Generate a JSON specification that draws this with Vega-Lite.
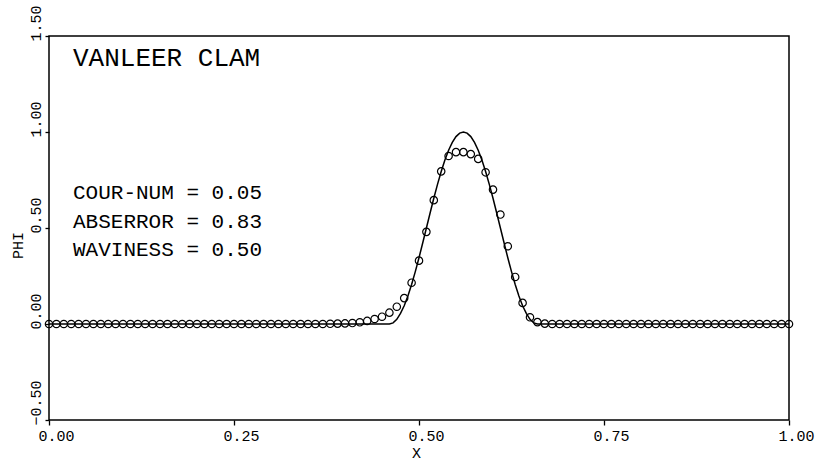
{
  "$schema": "https://vega.github.io/schema/vega-lite/v6.json",
  "width": 740,
  "height": 384,
  "autosize": "none",
  "padding": {"left": 49, "top": 36, "right": 35, "bottom": 44},
  "background": "white",
  "config": {
    "view": {"stroke": "black", "strokeWidth": 1.5},
    "font": "Liberation Mono",
    "axis": {
      "grid": false,
      "domain": false,
      "tickColor": "black",
      "tickWidth": 1.3,
      "labelColor": "black",
      "labelFont": "Liberation Mono",
      "labelFontSize": 15,
      "titleFont": "Liberation Mono",
      "titleFontSize": 15,
      "titleFontWeight": "normal",
      "titleColor": "black",
      "labelFlush": false,
      "labelOverlap": false
    }
  },
  "datasets": {
    "points": [
      {"x": 0.00, "phi": 0}, {"x": 0.01, "phi": 0}, {"x": 0.02, "phi": 0}, {"x": 0.03, "phi": 0}, {"x": 0.04, "phi": 0},
      {"x": 0.05, "phi": 0}, {"x": 0.06, "phi": 0}, {"x": 0.07, "phi": 0}, {"x": 0.08, "phi": 0}, {"x": 0.09, "phi": 0},
      {"x": 0.10, "phi": 0}, {"x": 0.11, "phi": 0}, {"x": 0.12, "phi": 0}, {"x": 0.13, "phi": 0}, {"x": 0.14, "phi": 0},
      {"x": 0.15, "phi": 0}, {"x": 0.16, "phi": 0}, {"x": 0.17, "phi": 0}, {"x": 0.18, "phi": 0}, {"x": 0.19, "phi": 0},
      {"x": 0.20, "phi": 0}, {"x": 0.21, "phi": 0}, {"x": 0.22, "phi": 0}, {"x": 0.23, "phi": 0}, {"x": 0.24, "phi": 0},
      {"x": 0.25, "phi": 0}, {"x": 0.26, "phi": 0}, {"x": 0.27, "phi": 0}, {"x": 0.28, "phi": 0}, {"x": 0.29, "phi": 0},
      {"x": 0.30, "phi": 0}, {"x": 0.31, "phi": 0}, {"x": 0.32, "phi": 0}, {"x": 0.33, "phi": 0}, {"x": 0.34, "phi": 0},
      {"x": 0.35, "phi": 0}, {"x": 0.36, "phi": 0}, {"x": 0.37, "phi": 0}, {"x": 0.38, "phi": 0.001}, {"x": 0.39, "phi": 0.002},
      {"x": 0.40, "phi": 0.003}, {"x": 0.41, "phi": 0.005}, {"x": 0.42, "phi": 0.009}, {"x": 0.43, "phi": 0.016}, {"x": 0.44, "phi": 0.026},
      {"x": 0.45, "phi": 0.038}, {"x": 0.46, "phi": 0.059}, {"x": 0.47, "phi": 0.09}, {"x": 0.48, "phi": 0.135}, {"x": 0.49, "phi": 0.215},
      {"x": 0.50, "phi": 0.33}, {"x": 0.51, "phi": 0.48}, {"x": 0.52, "phi": 0.645}, {"x": 0.53, "phi": 0.795}, {"x": 0.54, "phi": 0.875},
      {"x": 0.55, "phi": 0.895}, {"x": 0.56, "phi": 0.895}, {"x": 0.57, "phi": 0.885}, {"x": 0.58, "phi": 0.86}, {"x": 0.59, "phi": 0.79},
      {"x": 0.60, "phi": 0.70}, {"x": 0.61, "phi": 0.57}, {"x": 0.62, "phi": 0.405}, {"x": 0.63, "phi": 0.245}, {"x": 0.64, "phi": 0.11},
      {"x": 0.65, "phi": 0.035}, {"x": 0.66, "phi": 0.01}, {"x": 0.67, "phi": 0.002}, {"x": 0.68, "phi": 0}, {"x": 0.69, "phi": 0},
      {"x": 0.70, "phi": 0}, {"x": 0.71, "phi": 0}, {"x": 0.72, "phi": 0}, {"x": 0.73, "phi": 0}, {"x": 0.74, "phi": 0},
      {"x": 0.75, "phi": 0}, {"x": 0.76, "phi": 0}, {"x": 0.77, "phi": 0}, {"x": 0.78, "phi": 0}, {"x": 0.79, "phi": 0},
      {"x": 0.80, "phi": 0}, {"x": 0.81, "phi": 0}, {"x": 0.82, "phi": 0}, {"x": 0.83, "phi": 0}, {"x": 0.84, "phi": 0},
      {"x": 0.85, "phi": 0}, {"x": 0.86, "phi": 0}, {"x": 0.87, "phi": 0}, {"x": 0.88, "phi": 0}, {"x": 0.89, "phi": 0},
      {"x": 0.90, "phi": 0}, {"x": 0.91, "phi": 0}, {"x": 0.92, "phi": 0}, {"x": 0.93, "phi": 0}, {"x": 0.94, "phi": 0},
      {"x": 0.95, "phi": 0}, {"x": 0.96, "phi": 0}, {"x": 0.97, "phi": 0}, {"x": 0.98, "phi": 0}, {"x": 0.99, "phi": 0},
      {"x": 1.00, "phi": 0}
    ],
    "exact": [
      {"x": 0.0, "phi": 0}, {"x": 0.46, "phi": 0}, {"x": 0.465, "phi": 0.006}, {"x": 0.47, "phi": 0.024},
      {"x": 0.475, "phi": 0.055}, {"x": 0.48, "phi": 0.095}, {"x": 0.485, "phi": 0.146}, {"x": 0.49, "phi": 0.206},
      {"x": 0.495, "phi": 0.273}, {"x": 0.50, "phi": 0.345}, {"x": 0.505, "phi": 0.422}, {"x": 0.51, "phi": 0.50},
      {"x": 0.515, "phi": 0.578}, {"x": 0.52, "phi": 0.655}, {"x": 0.525, "phi": 0.727}, {"x": 0.53, "phi": 0.794},
      {"x": 0.535, "phi": 0.854}, {"x": 0.54, "phi": 0.905}, {"x": 0.545, "phi": 0.946}, {"x": 0.55, "phi": 0.976},
      {"x": 0.555, "phi": 0.994}, {"x": 0.56, "phi": 1.0}, {"x": 0.565, "phi": 0.994}, {"x": 0.57, "phi": 0.976},
      {"x": 0.575, "phi": 0.946}, {"x": 0.58, "phi": 0.905}, {"x": 0.585, "phi": 0.854}, {"x": 0.59, "phi": 0.794},
      {"x": 0.595, "phi": 0.727}, {"x": 0.60, "phi": 0.655}, {"x": 0.605, "phi": 0.578}, {"x": 0.61, "phi": 0.50},
      {"x": 0.615, "phi": 0.422}, {"x": 0.62, "phi": 0.345}, {"x": 0.625, "phi": 0.273}, {"x": 0.63, "phi": 0.206},
      {"x": 0.635, "phi": 0.146}, {"x": 0.64, "phi": 0.095}, {"x": 0.645, "phi": 0.055}, {"x": 0.65, "phi": 0.024},
      {"x": 0.655, "phi": 0.006}, {"x": 0.66, "phi": 0}, {"x": 1.0, "phi": 0}
    ]
  },
  "layer": [
    {
      "data": {"name": "exact"},
      "mark": {"type": "line", "color": "black", "strokeWidth": 1.5, "interpolate": "linear"},
      "encoding": {
        "x": {
          "field": "x", "type": "quantitative",
          "scale": {"domain": [0, 1], "nice": false, "zero": false},
          "axis": {
            "values": [0, 0.25, 0.5, 0.75, 1], "format": ".2f",
            "tickSize": 5, "labelPadding": 3, "labelAlign": "center", "labelOffset": 7,
            "title": "X", "titleX": 367, "titleY": 25, "titleBaseline": "top", "titleAlign": "center"
          }
        },
        "y": {
          "field": "phi", "type": "quantitative",
          "scale": {"domain": [-0.5, 1.5], "nice": false, "zero": false},
          "axis": {
            "values": [-0.5, 0, 0.5, 1, 1.5], "format": ".2f",
            "tickSize": 4, "labelPadding": 2, "labelAngle": 270, "labelAlign": "left", "labelBaseline": "bottom", "labelOffset": 5,
            "title": "PHI", "titleAngle": 270, "titleX": -24, "titleY": 209, "titleAlign": "center", "titleBaseline": "bottom"
          }
        }
      }
    },
    {
      "data": {"name": "points"},
      "mark": {"type": "point", "shape": "circle", "filled": false, "color": "black", "strokeWidth": 1.2, "size": 55, "opacity": 1},
      "encoding": {
        "x": {"field": "x", "type": "quantitative"},
        "y": {"field": "phi", "type": "quantitative"}
      }
    },
    {
      "data": {"values": [{}]},
      "mark": {"type": "text", "align": "left", "baseline": "middle", "fontSize": 26, "font": "Liberation Mono", "color": "black"},
      "encoding": {
        "x": {"datum": 0.0324, "type": "quantitative"},
        "y": {"datum": 1.388, "type": "quantitative"},
        "text": {"value": "VANLEER CLAM"}
      }
    },
    {
      "data": {"values": [{}]},
      "mark": {"type": "text", "align": "left", "baseline": "middle", "fontSize": 21, "font": "Liberation Mono", "color": "black", "lineHeight": 28.5},
      "encoding": {
        "x": {"datum": 0.0324, "type": "quantitative"},
        "y": {"datum": 0.682, "type": "quantitative"},
        "text": {"value": ["COUR-NUM = 0.05", "ABSERROR = 0.83", "WAVINESS = 0.50"]}
      }
    }
  ]
}
